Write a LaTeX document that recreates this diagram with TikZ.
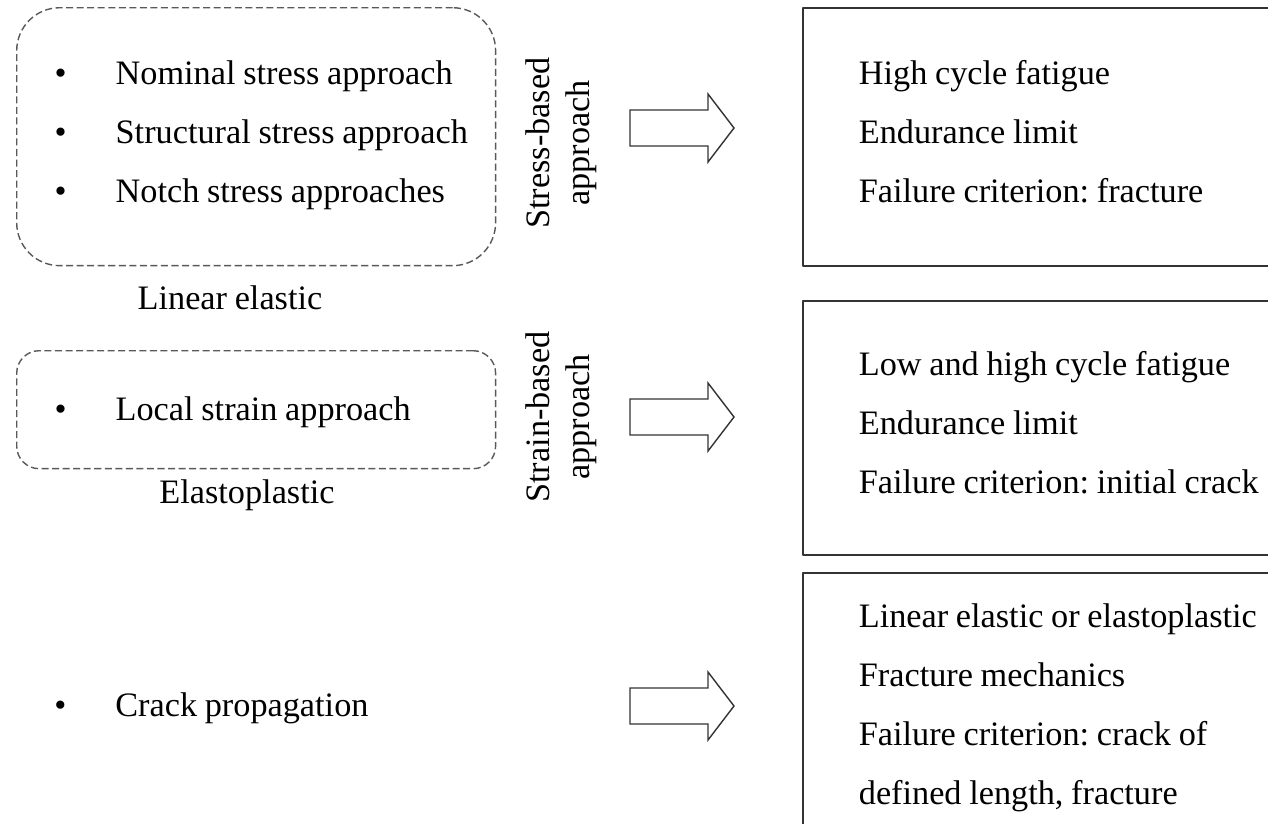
\documentclass[tikz,border=0pt]{standalone}
\usepackage{fontspec}
\setmainfont[WordSpace=0.9]{Liberation Serif}
\newcommand{\tstrut}{\rule[-6pt]{0pt}{14pt}}
\newcommand{\bitem}[1]{\mbox{\spaceskip=0pt\relax\makebox[1.22cm][l]{\textbullet}#1}\tstrut}
\newcommand{\rline}[1]{\mbox{\spaceskip=0pt\relax #1}\tstrut}
\tikzset{
	approachbox/.style={draw=black!65, dash pattern=on 4pt off 2pt, line width=0.8pt, anchor=north west, minimum width=9.58cm, inner xsep=0.76cm, text width=8.06cm, align=left},
	resultbox/.style={draw=black!80, line width=1pt, anchor=north west, minimum width=10.56cm, inner xsep=1.12cm, text width=8.32cm, align=left},
	bigarrow/.style={draw=black!80, line width=0.8pt, line join=miter}
}
\begin{document}
\begin{tikzpicture}[x=0.02cm, y=-0.02cm, font=\fontsize{19.5}{33.5}\selectfont\frenchspacing, line join=round]
			\useasboundingbox (0,0) rectangle (1268,823);
			% left side
			\node[approachbox, minimum height=5.16cm, rounded corners=0.86cm] (lin) at (16,7)
			{\bitem{Nominal stress approach}\\ \bitem{Structural stress approach}\\ \bitem{Notch stress approaches}};
			\node[approachbox, minimum height=2.36cm, rounded corners=0.45cm] (ela) at (16,350)
			{\mbox{\spaceskip=0pt\relax\makebox[1.22cm][l]{\textbullet}Local strain approach}\rule[-2pt]{0pt}{19pt}};
			\node[anchor=base west, inner sep=0pt] (crk) at (54,716) {\makebox[1.22cm][l]{\textbullet}Crack propagation};
			\node (linlbl) at (230,298) {Linear elastic};
			\node (elalbl) at (247,495) {Elastoplastic};
			
			% middle
			\node[rotate=90, align=center, font=\fontsize{19.5}{23}\selectfont] (stress) at (561,143) {Stress-based\\approach};
			\node[rotate=90, align=center, font=\fontsize{19.5}{23}\selectfont] (strain) at (561,417) {Strain-based\\approach};
			\foreach \c in {128,417,706}
			\draw[bigarrow] (630,\c-18) -- (708,\c-18) -- (708,\c-34) -- (734,\c) -- (708,\c+34) -- (708,\c+18) -- (630,\c+18) -- cycle;
			
			% right side
			\node[resultbox, minimum height=5.16cm] (hcf) at (802,7)
			{\rline{High cycle fatigue}\\ \rline{Endurance limit}\\ \rline{Failure criterion: fracture}};
			\node[resultbox, minimum height=5.08cm] (lcf) at (802,300)
			{\rline{Low and high cycle fatigue}\\ \rline{Endurance limit}\\ \rline{Failure criterion: initial crack}};
			\node[resultbox, minimum height=5.46cm] (frm) at (802,572)
			{\rline{Linear elastic or elastoplastic}\\ \rline{Fracture mechanics}\\ \rline{Failure criterion: crack of}\\ \rline{defined length, fracture}};
		\end{tikzpicture}
\end{document}
